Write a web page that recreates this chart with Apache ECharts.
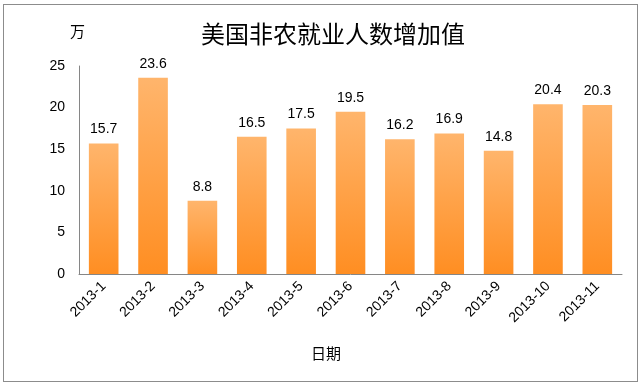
<!DOCTYPE html>
<html><head><meta charset="utf-8">
<script src="https://cdn.jsdelivr.net/npm/echarts@6/dist/echarts.min.js"></script>
<style>html,body{margin:0;padding:0;background:#fff}#c{width:641px;height:386px}
#frame{position:absolute;left:3px;top:4px;width:633px;height:376px;border:1px solid #8c8c8c;pointer-events:none}</style>
</head><body><div id="c"></div><div id="frame"></div>
<script>
const categories = ['2013-1','2013-2','2013-3','2013-4','2013-5','2013-6','2013-7','2013-8','2013-9','2013-10','2013-11'];
const values = [15.7,23.6,8.8,16.5,17.5,19.5,16.2,16.9,14.8,20.4,20.3];
const yTicks = [0,5,10,15,20,25];
const chart = echarts.init(document.getElementById('c'));
const font = '"Noto Sans CJK SC", "Liberation Sans", sans-serif';
chart.setOption({
  animation:false,
  title:{text:'美国非农就业人数增加值',left:196,top:17,textStyle:{fontFamily:font,fontSize:24,fontWeight:'normal',color:'#000'}},
  grid:{left:79,right:19,top:66,bottom:112},
  xAxis:{type:'category',data:categories,
    axisLine:{lineStyle:{color:'#868686'}},axisTick:{show:false},
    axisLabel:{rotate:45,fontFamily:'Liberation Sans',fontSize:14,color:'#000',interval:0,margin:10}},
  yAxis:{type:'value',min:yTicks[0],max:yTicks[yTicks.length-1],interval:5,
    axisLine:{show:true,lineStyle:{color:'#868686'}},axisTick:{show:false},splitLine:{show:false},
    axisLabel:{fontFamily:'Liberation Sans',fontSize:14,color:'#000',margin:14}},
  graphic:[
    {type:'text',left:70,top:24,style:{text:'万',font:'15px "Noto Sans CJK SC"',fill:'#000'}},
    {type:'text',left:311,top:346,style:{text:'日期',font:'15px "Noto Sans CJK SC"',fill:'#000'}}
  ],
  series:[{type:'bar',data:values,barWidth:'60%',
    itemStyle:{color:new echarts.graphic.LinearGradient(0,0,0,1,[{offset:0,color:'#FFB56C'},{offset:1,color:'#FF8E22'}])},
    label:{show:true,position:'top',distance:7,fontFamily:'Liberation Sans',fontSize:14,color:'#000'}}]
});
</script></body></html>
